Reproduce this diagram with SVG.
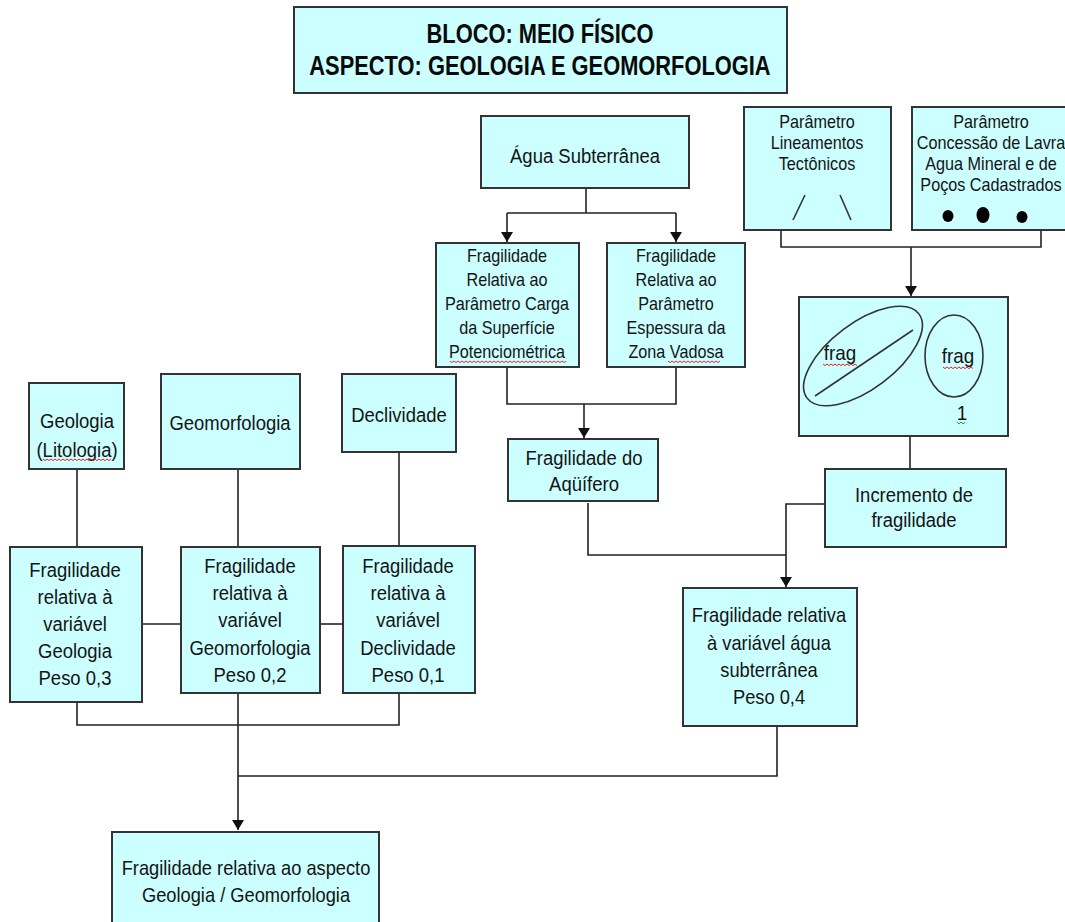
<svg xmlns="http://www.w3.org/2000/svg" width="1065" height="922" viewBox="0 0 1065 922">
  <defs>
    <style>
      .box { fill: #ccffff; stroke: #333333; stroke-width: 2; }
      .line { fill: none; stroke: #222222; stroke-width: 1.6; }
      .arrow { fill: none; stroke: #222222; stroke-width: 1.6; marker-end: url(#head); }
      .t { font-family: "Liberation Sans", Arial, sans-serif; font-size: 21px; fill: #141414; text-anchor: middle; }
      .s { font-family: "Liberation Sans", Arial, sans-serif; font-size: 18px; fill: #141414; text-anchor: middle; }
      .title { font-family: "Liberation Sans", Arial, sans-serif; font-size: 27px; font-weight: bold; fill: #0a0a0a; text-anchor: middle; }
      .shape { fill: none; stroke: #333333; stroke-width: 1.6; }
      .spell { fill: none; stroke: #ee2222; stroke-width: 1; }
      .gram { fill: none; stroke: #22aa22; stroke-width: 1; }
    </style>
    <marker id="head" viewBox="0 0 10 12" refX="10" refY="6" markerWidth="10" markerHeight="12" markerUnits="userSpaceOnUse" orient="auto">
      <path d="M0,0 L10,6 L0,12 z" fill="#111111"/>
    </marker>
  </defs>

  <rect width="1065" height="922" fill="#ffffff"/>

  <!-- connectors -->
  <g id="connectors">
    <!-- Água Subterrânea to its two parameters -->
    <polyline class="line" points="586,188 586,213"/>
    <polyline class="line" points="507,213 676,213"/>
    <polyline class="arrow" points="507,213 507,242"/>
    <polyline class="arrow" points="676,213 676,242"/>
    <!-- parameters to Fragilidade do Aqüífero -->
    <polyline class="line" points="507,367 507,404 676,404 676,367"/>
    <polyline class="arrow" points="584,404 584,438"/>
    <!-- lineamentos and concessão to frag box -->
    <polyline class="line" points="781,230 781,247 1041,247 1041,230"/>
    <polyline class="arrow" points="911,247 911,296"/>
    <!-- frag box to Incremento -->
    <polyline class="line" points="910,436 910,469"/>
    <!-- Incremento and Aqüífero to água subterrânea weight -->
    <polyline class="line" points="825,504 786,504 786,555"/>
    <polyline class="line" points="588,503 588,555 786,555"/>
    <polyline class="arrow" points="786,555 786,587"/>
    <!-- água subterrânea weight to final -->
    <polyline class="line" points="777,726 777,776 238,776"/>
    <!-- left column -->
    <polyline class="line" points="77,469 77,547"/>
    <polyline class="line" points="238,469 238,547"/>
    <polyline class="line" points="399,452 399,547"/>
    <polyline class="line" points="142,624 181,624"/>
    <polyline class="line" points="320,624 343,624"/>
    <polyline class="line" points="77,702 77,725 399,725 399,693"/>
    <polyline class="arrow" points="238,693 238,830"/>
  </g>

  <g id="title">
    <rect class="box" x="294" y="7" width="493" height="86"/>
    <g transform="translate(540,0) scale(0.81,1)">
      <text class="title" x="0" y="43">BLOCO: MEIO FÍSICO</text>
      <text class="title" x="0" y="75">ASPECTO: GEOLOGIA E GEOMORFOLOGIA</text>
    </g>
  </g>

  <g id="agua-subterranea">
    <rect class="box" x="481" y="116" width="208" height="72"/>
    <g transform="translate(585,0) scale(0.88,1)">
      <text class="t" x="0" y="163">Água Subterrânea</text>
    </g>
  </g>

  <g id="carga-potenciometrica">
    <rect class="box" x="436" y="243" width="143" height="124"/>
    <g transform="translate(507,0) scale(0.9,1)">
      <text class="s" x="0" y="262">Fragilidade</text>
      <text class="s" x="0" y="286">Relativa ao</text>
      <text class="s" x="0" y="310">Parâmetro Carga</text>
      <text class="s" x="0" y="334">da Superfície</text>
      <text class="s" x="0" y="358">Potenciométrica</text>
    </g>
    <path class="spell" d="M450,361 l2,1.6 l2,-1.6 l2,1.6 l2,-1.6 l2,1.6 l2,-1.6 l2,1.6 l2,-1.6 l2,1.6 l2,-1.6 l2,1.6 l2,-1.6 l2,1.6 l2,-1.6 l2,1.6 l2,-1.6 l2,1.6 l2,-1.6 l2,1.6 l2,-1.6 l2,1.6 l2,-1.6 l2,1.6 l2,-1.6 l2,1.6 l2,-1.6 l2,1.6 l2,-1.6 l2,1.6 l2,-1.6 l2,1.6 l2,-1.6 l2,1.6 l2,-1.6 l2,1.6 l2,-1.6 l2,1.6 l2,-1.6 l2,1.6 l2,-1.6 l2,1.6 l2,-1.6 l2,1.6 l2,-1.6 l2,1.6 l2,-1.6 l2,1.6 l2,-1.6 l2,1.6 l2,-1.6 l2,1.6 l2,-1.6 l2,1.6 l2,-1.6 l2,1.6 l2,-1.6 l2,1.6 l2,-1.6"/>
  </g>

  <g id="espessura-zona-vadosa">
    <rect class="box" x="607" y="243" width="138" height="124"/>
    <g transform="translate(676,0) scale(0.9,1)">
      <text class="s" x="0" y="262">Fragilidade</text>
      <text class="s" x="0" y="286">Relativa ao</text>
      <text class="s" x="0" y="310">Parâmetro</text>
      <text class="s" x="0" y="334">Espessura da</text>
      <text class="s" x="0" y="358">Zona Vadosa</text>
    </g>
    <path class="spell" d="M668,361 l2,1.6 l2,-1.6 l2,1.6 l2,-1.6 l2,1.6 l2,-1.6 l2,1.6 l2,-1.6 l2,1.6 l2,-1.6 l2,1.6 l2,-1.6 l2,1.6 l2,-1.6 l2,1.6 l2,-1.6 l2,1.6 l2,-1.6 l2,1.6 l2,-1.6 l2,1.6 l2,-1.6 l2,1.6 l2,-1.6 l2,1.6 l2,-1.6"/>
  </g>

  <g id="lineamentos">
    <rect class="box" x="744" y="107" width="147" height="123"/>
    <g transform="translate(817,0) scale(0.9,1)">
      <text class="s" x="0" y="128">Parâmetro</text>
      <text class="s" x="0" y="149">Lineamentos</text>
      <text class="s" x="0" y="170">Tectônicos</text>
    </g>
    <line class="shape" x1="793" y1="220" x2="805" y2="195"/>
    <line class="shape" x1="840" y1="195" x2="851" y2="220"/>
  </g>

  <g id="concessao-pocos">
    <rect class="box" x="912" y="107" width="160" height="123"/>
    <g transform="translate(991,0) scale(0.9,1)">
      <text class="s" x="0" y="128">Parâmetro</text>
      <text class="s" x="0" y="149">Concessão de Lavra</text>
      <text class="s" x="0" y="170">Agua Mineral e de</text>
      <text class="s" x="0" y="191">Poços Cadastrados</text>
    </g>
    <ellipse cx="948" cy="216" rx="5.5" ry="6" fill="#000000"/>
    <ellipse cx="983" cy="215" rx="6.5" ry="8" fill="#000000"/>
    <ellipse cx="1022" cy="217" rx="5.5" ry="6" fill="#000000"/>
  </g>

  <g id="frag-box">
    <rect class="box" x="799" y="297" width="209" height="139"/>
    <ellipse class="shape" cx="863" cy="356" rx="70" ry="33" transform="rotate(-37 863 356)"/>
    <line class="shape" x1="815" y1="396" x2="913" y2="330"/>
    <ellipse class="shape" cx="954" cy="356" rx="29" ry="41"/>
    <g transform="translate(840,0) scale(0.9,1)">
      <text class="t" x="0" y="360">frag</text>
    </g>
    <g transform="translate(958,0) scale(0.9,1)">
      <text class="t" x="0" y="363">frag</text>
    </g>
    <g transform="translate(962,0) scale(0.9,1)">
      <text class="t" x="0" y="420">1</text>
    </g>
    <path class="spell" d="M823,364 l2,1.6 l2,-1.6 l2,1.6 l2,-1.6 l2,1.6 l2,-1.6 l2,1.6 l2,-1.6 l2,1.6 l2,-1.6 l2,1.6 l2,-1.6 l2,1.6 l2,-1.6 l2,1.6 l2,-1.6 l2,1.6"/>
    <path class="spell" d="M943,367 l2,1.6 l2,-1.6 l2,1.6 l2,-1.6 l2,1.6 l2,-1.6 l2,1.6 l2,-1.6 l2,1.6 l2,-1.6 l2,1.6 l2,-1.6 l2,1.6 l2,-1.6 l2,1.6"/>
    <path class="gram" d="M957,422 l2,2 l2,-2 l2,2 l2,-2"/>
  </g>

  <g id="incremento">
    <rect class="box" x="825" y="469" width="181" height="78"/>
    <g transform="translate(914,0) scale(0.88,1)">
      <text class="t" x="0" y="502">Incremento de</text>
      <text class="t" x="0" y="527">fragilidade</text>
    </g>
  </g>

  <g id="fragilidade-aquifero">
    <rect class="box" x="508" y="439" width="150" height="62"/>
    <g transform="translate(584,0) scale(0.88,1)">
      <text class="t" x="0" y="465">Fragilidade do</text>
      <text class="t" x="0" y="491">Aqüífero</text>
    </g>
  </g>

  <g id="fragilidade-agua">
    <rect class="box" x="683" y="588" width="174" height="138"/>
    <g transform="translate(769,0) scale(0.87,1)">
      <text class="t" x="0" y="622">Fragilidade relativa</text>
      <text class="t" x="0" y="650">à variável água</text>
      <text class="t" x="0" y="677">subterrânea</text>
      <text class="t" x="0" y="704">Peso 0,4</text>
    </g>
  </g>

  <g id="geologia">
    <rect class="box" x="29" y="383" width="95" height="86"/>
    <g transform="translate(77,0) scale(0.88,1)">
      <text class="t" x="0" y="428">Geologia</text>
      <text class="t" x="0" y="457">(Litologia)</text>
    </g>
    <path class="spell" d="M43,459 l2,1.6 l2,-1.6 l2,1.6 l2,-1.6 l2,1.6 l2,-1.6 l2,1.6 l2,-1.6 l2,1.6 l2,-1.6 l2,1.6 l2,-1.6 l2,1.6 l2,-1.6 l2,1.6 l2,-1.6 l2,1.6 l2,-1.6 l2,1.6 l2,-1.6 l2,1.6 l2,-1.6 l2,1.6 l2,-1.6 l2,1.6 l2,-1.6 l2,1.6 l2,-1.6 l2,1.6 l2,-1.6 l2,1.6 l2,-1.6 l2,1.6 l2,-1.6"/>
  </g>

  <g id="geomorfologia">
    <rect class="box" x="161" y="374" width="139" height="95"/>
    <g transform="translate(230,0) scale(0.88,1)">
      <text class="t" x="0" y="430">Geomorfologia</text>
    </g>
  </g>

  <g id="declividade">
    <rect class="box" x="342" y="374" width="114" height="78"/>
    <g transform="translate(399,0) scale(0.88,1)">
      <text class="t" x="0" y="422">Declividade</text>
    </g>
  </g>

  <g id="fragilidade-geologia">
    <rect class="box" x="10" y="547" width="132" height="155"/>
    <g transform="translate(75,0) scale(0.88,1)">
      <text class="t" x="0" y="577">Fragilidade</text>
      <text class="t" x="0" y="604">relativa à</text>
      <text class="t" x="0" y="631">variável</text>
      <text class="t" x="0" y="658">Geologia</text>
      <text class="t" x="0" y="685">Peso 0,3</text>
    </g>
  </g>

  <g id="fragilidade-geomorfologia">
    <rect class="box" x="181" y="547" width="139" height="146"/>
    <g transform="translate(250,0) scale(0.88,1)">
      <text class="t" x="0" y="573">Fragilidade</text>
      <text class="t" x="0" y="600">relativa à</text>
      <text class="t" x="0" y="627">variável</text>
      <text class="t" x="0" y="655">Geomorfologia</text>
      <text class="t" x="0" y="682">Peso 0,2</text>
    </g>
  </g>

  <g id="fragilidade-declividade">
    <rect class="box" x="343" y="546" width="132" height="147"/>
    <g transform="translate(408,0) scale(0.88,1)">
      <text class="t" x="0" y="573">Fragilidade</text>
      <text class="t" x="0" y="600">relativa à</text>
      <text class="t" x="0" y="627">variável</text>
      <text class="t" x="0" y="655">Declividade</text>
      <text class="t" x="0" y="682">Peso 0,1</text>
    </g>
  </g>

  <g id="fragilidade-aspecto">
    <rect class="box" x="112" y="832" width="267" height="100"/>
    <g transform="translate(246,0) scale(0.87,1)">
      <text class="t" x="0" y="875">Fragilidade relativa ao aspecto</text>
      <text class="t" x="0" y="902">Geologia / Geomorfologia</text>
    </g>
  </g>
</svg>
